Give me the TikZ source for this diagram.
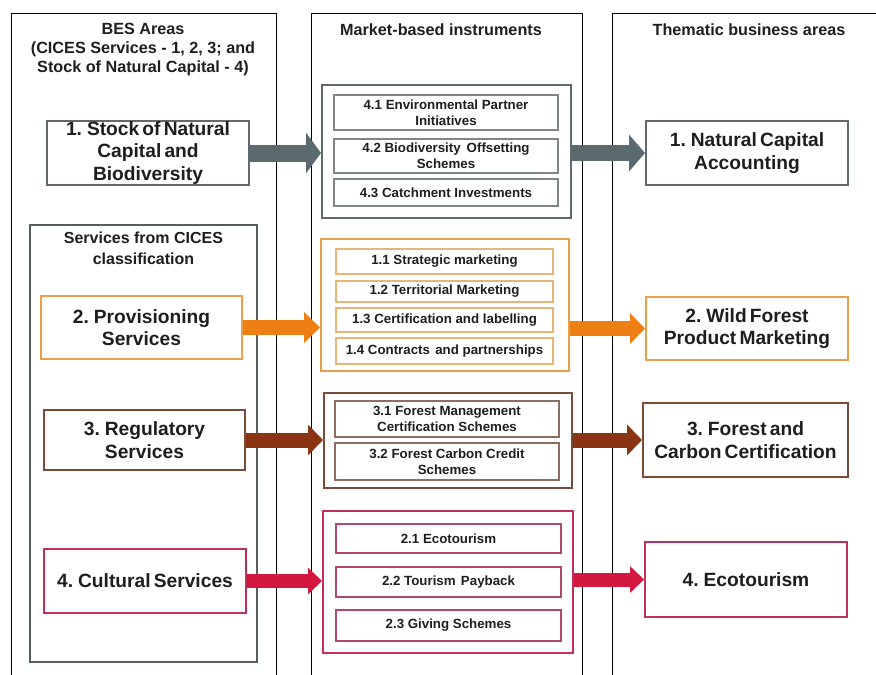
\documentclass[tikz,border=0pt]{standalone}
\usepackage{fontspec}
\setmainfont{Liberation Sans}
\newfontfamily\tightfont{Liberation Sans}[WordSpace=0.6]
\usetikzlibrary{arrows.meta}
\definecolor{cgray}{HTML}{5E6A6E}
\definecolor{cgrayA}{HTML}{5A6A6E}
\definecolor{cgrayI}{HTML}{808588}
\definecolor{corange}{HTML}{E9A046}
\definecolor{corangeA}{HTML}{EE7F14}
\definecolor{corangeI}{HTML}{E8B478}
\definecolor{cbrown}{HTML}{7B4B3A}
\definecolor{cbrownA}{HTML}{8B3414}
\definecolor{cbrownI}{HTML}{8E6E62}
\definecolor{ccrim}{HTML}{C0305A}
\definecolor{ccrimA}{HTML}{D4173F}
\definecolor{ccrimI}{HTML}{B04A6A}
\definecolor{ctext}{HTML}{1E1E1E}
\tikzset{
  colline/.style={draw=black, line width=0.8pt},
  hdr/.style={text=ctext, align=center, inner sep=0pt, font=\fontsize{16.2}{19}\selectfont\bfseries},
  subhdr/.style={text=ctext, align=center, inner sep=0pt, font=\fontsize{16}{21}\selectfont\bfseries},
  mainbox/.style={draw=#1, line width=2pt, fill=white, text=ctext, align=center, inner sep=0pt, font=\tightfont\fontsize{19.2}{22.5}\selectfont\bfseries},
  outerbox/.style={draw=#1, line width=2pt, fill=white, inner sep=0pt},
  innerbox/.style={draw=#1, line width=1.1pt, fill=white, text=ctext, align=center, inner sep=0pt, font=\fontsize{13.3}{16}\selectfont\bfseries},
  fatarrow/.style n args={4}{draw=#1, line width=#2, -{Triangle[length=#3,width=#4]}},
}
\begin{document}
\begin{tikzpicture}[x=1pt,y=-1pt]
\useasboundingbox (0,0) rectangle (876,675);
\clip (0,0) rectangle (876,675);
% columns
\draw[colline] (11,13) rectangle (276,700);
\draw[colline] (311,13) rectangle (582,700);
\draw[colline] (612,13) rectangle (900,700);
% headers
\node[hdr] (h1) at (143,49.5) {BES Areas\\(CICES Services - 1, 2, 3; and\\Stock of Natural Capital - 4)};
\node[hdr] (h2) at (441,29.5) {Market-based instruments};
\node[hdr] (h3) at (749,29.5) {Thematic business areas};
% CICES sub frame
\node[draw=cgray!90!black, line width=1.2pt, minimum width=227pt, minimum height=437pt, inner sep=0pt] (cices) at (143.5,443.5) {};
\node[subhdr] (cicesh) at (143.5,248.5) {Services from CICES\\classification};
% left boxes
\node[mainbox=cgray, minimum width=202pt, minimum height=64pt] (s1) at (148,153) {1. Stock of Natural\\Capital and\\Biodiversity};
\node[mainbox=corange, minimum width=201pt, minimum height=63pt] (s2) at (141.5,327.5) {2. Provisioning\\Services};
\node[mainbox=cbrown, minimum width=201pt, minimum height=60pt] (s3) at (144.5,440) {3. Regulatory\\Services};
\node[mainbox=ccrim, minimum width=202pt, minimum height=64pt] (s4) at (145,581) {4. Cultural Services};
% market boxes
\node[outerbox=cgray, minimum width=249pt, minimum height=133pt] (m1) at (446.5,151.5) {};
\node[innerbox=cgrayI, minimum width=224pt, minimum height=35pt] (m1a) at (446,112.5) {4.1 Environmental Partner\\Initiatives};
\node[innerbox=cgrayI, minimum width=224pt, minimum height=34pt] (m1b) at (446,156) {4.2 Biodiversity\hspace{0.45em}Offsetting\\Schemes};
\node[innerbox=cgrayI, minimum width=224pt, minimum height=27pt] (m1c) at (446,192.5) {4.3 Catchment Investments};

\node[outerbox=corange, minimum width=248pt, minimum height=132pt] (m2) at (445,305) {};
\node[innerbox=corangeI, minimum width=217pt, minimum height=25pt] (m2a) at (444.5,261.5) {1.1 Strategic marketing};
\node[innerbox=corangeI, minimum width=217pt, minimum height=21pt] (m2b) at (444.5,291.5) {1.2 Territorial Marketing};
\node[innerbox=corangeI, minimum width=217pt, minimum height=24pt] (m2c) at (444.5,320) {1.3 Certification and labelling};
\node[innerbox=corangeI, minimum width=217pt, minimum height=26pt] (m2d) at (444.5,351) {1.4 Contracts\hspace{0.4em}and partnerships};

\node[outerbox=cbrown, minimum width=248pt, minimum height=95pt] (m3) at (448,440.5) {};
\node[innerbox=cbrownI, minimum width=224pt, minimum height=36pt] (m3a) at (447,419) {3.1 Forest Management\\Certification Schemes};
\node[innerbox=cbrownI, minimum width=224pt, minimum height=37pt] (m3b) at (447,461.5) {3.2 Forest Carbon Credit\\Schemes};

\node[outerbox=ccrim, minimum width=250pt, minimum height=142pt] (m4) at (448,582) {};
\node[innerbox=ccrimI, minimum width=225pt, minimum height=29pt] (m4a) at (448.5,538.5) {2.1 Ecotourism};
\node[innerbox=ccrimI, minimum width=225pt, minimum height=30pt] (m4b) at (448.5,582) {2.2 Tourism\hspace{0.4em}Payback};
\node[innerbox=ccrimI, minimum width=225pt, minimum height=31pt] (m4c) at (448.5,625.5) {2.3 Giving Schemes};
% thematic boxes
\node[mainbox=cgray, minimum width=202pt, minimum height=64pt] (t1) at (747,153) {1. Natural Capital\\Accounting};
\node[mainbox=corange, minimum width=202pt, minimum height=63pt] (t2) at (747,328.5) {2. Wild Forest\\Product Marketing};
\node[mainbox=cbrown, minimum width=205pt, minimum height=74pt] (t3) at (745.5,440) {3. Forest and\\Carbon Certification};
\node[mainbox=ccrim, minimum width=202pt, minimum height=75pt] (t4) at (746,579.5) {4. Ecotourism};
% arrows
\draw[fatarrow={cgrayA}{17pt}{15pt}{40pt}] (s1.east) -- (s1.east -| m1.west);
\draw[fatarrow={cgrayA}{16pt}{16pt}{36pt}] (t1.west -| m1.east) -- (t1.west);
\draw[fatarrow={corangeA}{15pt}{16pt}{30pt}] (s2.east) -- (s2.east -| m2.west);
\draw[fatarrow={corangeA}{15pt}{15pt}{30pt}] (t2.west -| m2.east) -- (t2.west);
\draw[fatarrow={cbrownA}{15pt}{15pt}{30pt}] (s3.east) -- (s3.east -| m3.west);
\draw[fatarrow={cbrownA}{15pt}{15pt}{30pt}] (t3.west -| m3.east) -- (t3.west);
\draw[fatarrow={ccrimA}{14pt}{14pt}{26pt}] (s4.east) -- (s4.east -| m4.west);
\draw[fatarrow={ccrimA}{14pt}{14pt}{26pt}] (t4.west -| m4.east) -- (t4.west);
\end{tikzpicture}
\end{document}
